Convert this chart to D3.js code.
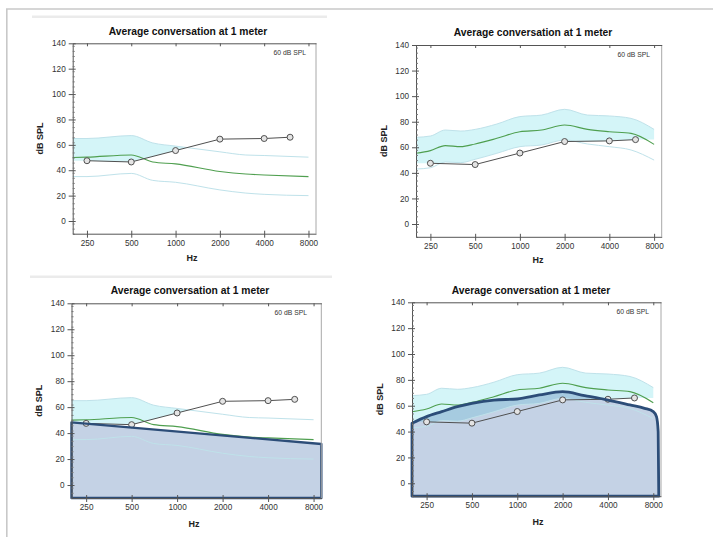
<!DOCTYPE html>
<html><head><meta charset="utf-8">
<script src="https://cdn.jsdelivr.net/npm/d3@7"></script>
<style>body{margin:0;background:#fff}svg{display:block;font-family:"Liberation Sans",Arial,sans-serif}</style>
</head><body>
<svg id="c" width="713" height="537"></svg>
<script>
// ---- data ----
const title = "Average conversation at 1 meter";
const levelLabel = "60 dB SPL";
const freqTicks = [250, 500, 1000, 2000, 4000, 8000];
const dbTicks = [0, 20, 40, 60, 80, 100, 120, 140];
const thrFreq = [250, 500, 1000, 2000, 4000, 6000];
const thrDb = [47.5, 46.5, 55.5, 64.5, 65, 66];
// unaided speech range
const uFreq = [200, 250, 500, 700, 1000, 2000, 3000, 4000, 8000];
const uLow  = [35, 35, 37.5, 32, 30.5, 24.5, 22, 21, 20];
const uMid  = [50, 50.3, 52, 46.5, 45, 39, 37, 36.3, 35];
const uHigh = [65, 65, 67.3, 61.5, 59, 54.5, 52, 51.6, 50.3];
// aided speech range
const aFreq = [200, 250, 315, 400, 500, 700, 1000, 1400, 2000, 2850, 4000, 5600, 8000];
const aLow  = [43, 44, 48.5, 48, 50.6, 55.3, 60.5, 61.8, 65.7, 62.6, 60.5, 57.9, 50];
const aMid  = [55.3, 57.4, 61.3, 60.5, 62.6, 67, 72.2, 73.5, 77.4, 74, 72.2, 70.9, 62.3];
const aHigh = [67.8, 68.8, 73.5, 72.7, 74, 78.2, 84, 85.2, 89.7, 85.2, 84.5, 82.6, 74];
// shaded output areas
const out3Freq = [200, 9000];
const out3Db = [48.3, 31.6];
const out4Freq = [200, 250, 315, 400, 500, 700, 1000, 1400, 2000, 2800, 4000, 5600, 7000, 8000, 8400, 8620, 8700];
const out4Db = [46.5, 51.6, 55.4, 59.3, 61.9, 64.4, 65.2, 68.3, 70.9, 67.8, 64.4, 60.6, 58, 55.4, 51.6, 40, -10];

// ---- layout ----
const panels = [
  {l:72.7, r:316, t:43.3, b:233.7, band:"u", out:null, tx:188, ty:35, hx:192, hy:261, yl:40, lx:306, ly:55},
  {l:416, r:661.7, t:45, b:236.8, band:"a", out:null, tx:533, ty:36, hx:538, hy:263, yl:384, lx:650, ly:57},
  {l:71.5, r:321.3, t:303.3, b:498, band:"u", out:3, tx:190, ty:294, hx:194, hy:527, yl:38.5, lx:307, ly:315},
  {l:412, r:661, t:302.3, b:496.2, band:"a", out:4, tx:531, ty:294, hx:538, hy:525, yl:380, lx:649, ly:314}
];

const svg = d3.select("#c");
svg.append("rect").attr("width",713).attr("height",537).attr("fill","#fff");
svg.append("line").attr("x1",6).attr("x2",713).attr("y1",9).attr("y2",9).attr("stroke","#c8c8c8").attr("stroke-width",1.6);
svg.append("line").attr("x1",6.8).attr("x2",6.8).attr("y1",9).attr("y2",537).attr("stroke","#c8c8c8").attr("stroke-width",1.6);
svg.append("rect").attr("x",32).attr("y",15.5).attr("width",295).attr("height",2.5).attr("fill","#ebebeb");
svg.append("rect").attr("x",30).attr("y",275.5).attr("width",302).attr("height",2.5).attr("fill","#ebebeb");

panels.forEach((p, i) => {
  const g = svg.append("g");
  const x = d3.scaleLog().domain([200, 9000]).range([p.l, p.r]);
  const y = d3.scaleLinear().domain([-10, 140]).range([p.b, p.t]);
  const bf = p.band === "u" ? uFreq : aFreq;
  const lo = p.band === "u" ? uLow : aLow;
  const mid = p.band === "u" ? uMid : aMid;
  const hi = p.band === "u" ? uHigh : aHigh;
  const idx = d3.range(bf.length);

  // clip: region above threshold
  const thrPts = [[200, thrDb[0]]].concat(thrFreq.map((f,k)=>[f, thrDb[k]]), [[9000, thrDb[thrDb.length-1]]]);
  const cid = "clip"+i;
  g.append("clipPath").attr("id", cid).append("path")
    .attr("d", d3.area().x(d=>x(d[0])).y0(d=>y(d[1])).y1(y(140))(thrPts));

  // band fill
  g.append("path").attr("clip-path", `url(#${cid})`)
    .attr("d", d3.area().curve(d3.curveMonotoneX).x(k=>x(bf[k])).y0(k=>y(lo[k])).y1(k=>y(hi[k]))(idx))
    .attr("fill", "#d4f5f8");

  // output area fill
  let outArea = null;
  if (p.out) {
    const of = p.out === 3 ? out3Freq : out4Freq;
    const od = p.out === 3 ? out3Db : out4Db;
    const oi = d3.range(of.length);
    outArea = d3.area().curve(p.out===3 ? d3.curveLinear : d3.curveMonotoneX)
      .x(k=>x(of[k])).y0(y(-10)).y1(k=>y(od[k]))(oi);
    g.append("path").attr("d", outArea).attr("fill", "rgba(60,106,168,0.3)");
  }

  const line = arr => d3.line().curve(d3.curveMonotoneX).x(k=>x(bf[k])).y(k=>y(arr[k]))(idx);
  g.append("path").attr("d", line(hi)).attr("fill","none").attr("stroke","#bfe2ea").attr("stroke-width",1);
  g.append("path").attr("d", line(lo)).attr("fill","none").attr("stroke","#bfe2ea").attr("stroke-width",1);
  g.append("path").attr("d", line(mid)).attr("fill","none").attr("stroke","#4f9f4f").attr("stroke-width",1.1);

  // threshold
  const ti = d3.range(thrFreq.length);
  g.append("path").attr("d", d3.line().x(k=>x(thrFreq[k])).y(k=>y(thrDb[k]))(ti))
    .attr("fill","none").attr("stroke","#505050").attr("stroke-width",1);
  g.selectAll("circle.t").data(ti).join("circle").attr("class","t")
    .attr("cx",k=>x(thrFreq[k])).attr("cy",k=>y(thrDb[k])).attr("r",3)
    .attr("fill","#e4e4e4").attr("stroke","#505050").attr("stroke-width",1);

  if (outArea) {
    g.append("path").attr("d", outArea).attr("fill","none").attr("stroke","#2c4d78")
      .attr("stroke-width", p.out===3 ? 2.4 : 2.8).attr("stroke-linejoin","round");
  }

  // frame
  g.append("line").attr("x1",p.r).attr("x2",p.r).attr("y1",p.t).attr("y2",p.b).attr("stroke","#a8a8a8");
  // left axis major
  const ax = g.append("g").attr("transform",`translate(${p.l},0)`)
    .call(d3.axisLeft(y).tickValues(dbTicks).tickSize(4).tickPadding(3).tickSizeOuter(0));
  ax.select(".domain").attr("stroke","#555");
  ax.selectAll(".tick line").attr("stroke","#555").attr("x1",3);
  ax.selectAll("text").attr("font-size","8.2px").attr("fill","#333");
  // left axis minor
  const mn = g.append("g").attr("transform",`translate(${p.l},0)`)
    .call(d3.axisRight(y).tickValues(d3.range(-10,141,4).filter(v=>v%20!==0)).tickSize(2).tickFormat(""));
  mn.select(".domain").remove();
  mn.selectAll(".tick line").attr("stroke","#777");
  // top axis
  const tp = g.append("g").attr("transform",`translate(0,${p.t})`)
    .call(d3.axisBottom(x).tickValues(freqTicks).tickSize(3).tickFormat("").tickSizeOuter(0));
  tp.select(".domain").attr("stroke","#555");
  tp.selectAll(".tick line").attr("stroke","#555");
  // bottom axis
  const bt = g.append("g").attr("transform",`translate(0,${p.b})`)
    .call(d3.axisBottom(x).tickValues(freqTicks).tickSize(4).tickPadding(2).tickFormat(d3.format("d")).tickSizeOuter(0));
  bt.select(".domain").attr("stroke","#555");
  bt.selectAll(".tick line").attr("stroke","#555").attr("y1",-3);
  bt.selectAll("text").attr("font-size","8.2px").attr("fill","#333");

  // texts
  g.append("text").attr("x",p.tx).attr("y",p.ty).attr("text-anchor","middle")
    .attr("font-size","10.3px").attr("font-weight","bold").attr("fill","#111").text(title);
  g.append("text").attr("x",p.hx).attr("y",p.hy).attr("text-anchor","middle")
    .attr("font-size","9px").attr("font-weight","bold").attr("fill","#222").text("Hz");
  g.append("text").attr("transform",`translate(${p.yl},${(p.t+p.b)/2}) rotate(-90)`).attr("text-anchor","middle")
    .attr("dy","0.35em").attr("font-size","9px").attr("font-weight","bold").attr("fill","#222").text("dB SPL");
  g.append("text").attr("x",p.lx).attr("y",p.ly).attr("text-anchor","end")
    .attr("font-size","6.8px").attr("fill","#333").text(levelLabel);
});
</script>
</body></html>
